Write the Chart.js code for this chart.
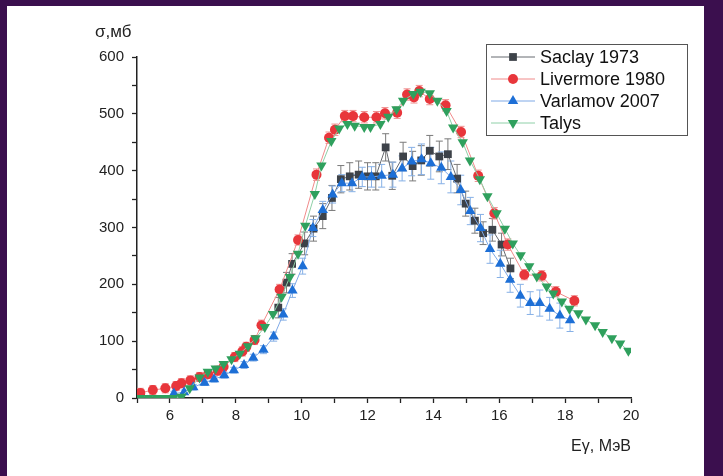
<!DOCTYPE html>
<html>
<head>
<meta charset="utf-8">
<script src="https://cdn.jsdelivr.net/npm/chart.js@4.4.1/dist/chart.umd.min.js"></script>
<style>
  html, body { margin: 0; padding: 0; }
  body { width: 723px; height: 476px; background: #3b0f4e; position: relative; overflow: hidden; font-family: "Liberation Sans", Arial, sans-serif; }
  #panel { position: absolute; left: 7px; top: 6px; width: 697px; height: 470px; background: #fff; }
  #chart { position: absolute; left: 0; top: 0; }
</style>
</head>
<body>
<div id="panel"></div>
<canvas id="chart" width="723" height="476"></canvas>
<script>
// Saclay 1973
const saclayE = [9.29, 9.54, 9.71, 10.09, 10.36, 10.64, 10.92, 11.19, 11.46, 11.73, 12.0, 12.25, 12.55, 12.75, 13.08, 13.37, 13.63, 13.89, 14.18, 14.44, 14.72, 14.98, 15.26, 15.51, 15.79, 16.07, 16.34];
const saclaySigma = [159, 203, 236, 272, 298, 320, 352, 385, 390, 393, 390, 390, 441, 391, 425, 408, 418, 435, 425, 429, 386, 342, 312, 290, 296, 270, 228];
const saclayErr = [18, 18, 18, 20, 22, 22, 22, 24, 24, 24, 24, 24, 24, 24, 25, 26, 26, 27, 27, 27, 25, 22, 22, 20, 20, 20, 18];

// Livermore 1980
const livermoreE = [5.1, 5.48, 5.86, 6.19, 6.35, 6.62, 6.9, 7.16, 7.45, 7.63, 7.97, 8.2, 8.32, 8.57, 8.78, 9.33, 9.89, 10.45, 10.83, 11.01, 11.31, 11.56, 11.9, 12.27, 12.53, 12.9, 13.2, 13.41, 13.57, 13.89, 14.37, 14.84, 15.36, 15.85, 16.26, 16.76, 17.29, 17.72, 18.28];
const livermoreSigma = [9, 14, 17, 21, 26, 31, 37, 42, 48, 55, 72, 82, 90, 102, 128, 191, 278, 393, 458, 472, 496, 496, 494, 494, 501, 502, 534, 529, 540, 526, 515, 468, 391, 325, 270, 217, 215, 187, 171];
const livermoreErr = [8, 8, 8, 8, 8, 8, 8, 8, 8, 8, 8, 8, 8, 8, 9, 9, 9, 10, 10, 10, 10, 10, 10, 10, 10, 10, 10, 10, 10, 10, 10, 10, 10, 10, 10, 9, 9, 9, 9];

// Varlamov 2007
const varlamovE = [6.12, 6.43, 6.71, 7.05, 7.34, 7.65, 7.94, 8.25, 8.53, 8.84, 9.15, 9.44, 9.72, 10.03, 10.34, 10.64, 10.94, 11.22, 11.53, 11.84, 12.12, 12.43, 12.77, 13.05, 13.34, 13.64, 13.92, 14.24, 14.53, 14.83, 15.12, 15.43, 15.72, 16.03, 16.33, 16.64, 16.94, 17.23, 17.53, 17.84, 18.15];
const varlamovSigma = [8, 10, 19, 27, 33, 40, 49, 58, 71, 85, 108, 147, 189, 232, 299, 331, 358, 378, 378, 389, 389, 391, 393, 404, 416, 420, 413, 405, 389, 366, 329, 299, 262, 236, 208, 180, 167, 167, 157, 145, 137];
const varlamovErr = [4, 4, 5, 5, 5, 5, 5, 6, 6, 7, 8, 10, 12, 14, 15, 15, 15, 15, 15, 17, 18, 20, 22, 22, 25, 27, 28, 28, 28, 26, 24, 24, 25, 24, 22, 20, 20, 23, 20, 22, 20];

// Talys
const talysE = [5.1, 5.35, 5.6, 5.85, 6.1, 6.35, 6.6, 6.9, 7.15, 7.39, 7.63, 7.87, 8.12, 8.37, 8.6, 8.88, 9.13, 9.39, 9.64, 9.89, 10.11, 10.4, 10.6, 10.9, 11.14, 11.39, 11.61, 11.9, 12.09, 12.39, 12.63, 12.88, 13.08, 13.39, 13.61, 13.89, 14.12, 14.4, 14.6, 14.89, 15.11, 15.41, 15.64, 15.92, 16.17, 16.41, 16.65, 16.91, 17.14, 17.44, 17.64, 17.9, 18.13, 18.4, 18.63, 18.91, 19.14, 19.42, 19.67, 19.92];
const talysSigma = [0, 0, 0, 0, 0, 2, 17, 36, 46, 52, 60, 68, 78, 91, 105, 125, 148, 178, 213, 254, 303, 359, 409, 452, 474, 482, 479, 477, 477, 482, 495, 508, 523, 535, 539, 536, 523, 505, 476, 450, 418, 385, 355, 325, 298, 272, 251, 232, 214, 196, 184, 170, 157, 149, 138, 128, 116, 105, 96, 83];

const xTicks = [6, 8, 10, 12, 14, 16, 18, 20];
const yTicks = [0, 100, 200, 300, 400, 500, 600];

const points = (xs, ys) => xs.map((x, i) => ({ x: x, y: ys[i] }));

// vertical error bars, drawn under the markers
const errorBars = {
    id: "errorBars",
    beforeDatasetsDraw(chart) {
        const { ctx, chartArea, scales } = chart;
        ctx.save();
        ctx.beginPath();
        ctx.rect(chartArea.left, chartArea.top, chartArea.width, chartArea.height);
        ctx.clip();
        chart.data.datasets.forEach((ds) => {
            if (!ds.errors) return;
            ctx.strokeStyle = ds.errorColor;
            ctx.lineWidth = 1;
            ds.data.forEach((p, i) => {
                const e = ds.errors[i];
                const px = scales.x.getPixelForValue(p.x);
                const t = scales.y.getPixelForValue(p.y + e);
                const b = scales.y.getPixelForValue(p.y - e);
                ctx.beginPath();
                ctx.moveTo(px, t); ctx.lineTo(px, b);
                ctx.moveTo(px - 3.5, t); ctx.lineTo(px + 3.5, t);
                ctx.moveTo(px - 3.5, b); ctx.lineTo(px + 3.5, b);
                ctx.stroke();
            });
        });
        ctx.restore();
    },
};

// boxed legend in the upper right + the y axis caption
const boxLegend = {
    id: "boxLegend",
    afterDraw(chart) {
        const ctx = chart.ctx;
        const area = chart.chartArea;
        ctx.save();
        ctx.fillStyle = "#222";
        ctx.font = "17px 'Liberation Sans', Arial, sans-serif";
        ctx.textBaseline = "middle";
        ctx.textAlign = "left";
        ctx.fillText("σ,мб", area.left - 42, 32);

        const bx = 486, by = 44, bw = 201, bh = 91;
        ctx.fillStyle = "#fff";
        ctx.fillRect(bx, by, bw, bh);
        ctx.strokeStyle = "#555";
        ctx.lineWidth = 1;
        ctx.strokeRect(bx + 0.5, by + 0.5, bw, bh);

        ctx.font = "18px 'Liberation Sans', Arial, sans-serif";
        chart.data.datasets.forEach((ds, i) => {
            const yy = by + 13 + i * 22;
            ctx.strokeStyle = ds.borderColor;
            ctx.lineWidth = 1;
            ctx.beginPath();
            ctx.moveTo(bx + 5, yy);
            ctx.lineTo(bx + 49, yy);
            ctx.stroke();
            ctx.fillStyle = ds.pointBackgroundColor;
            Chart.helpers.drawPoint(ctx, {
                pointStyle: ds.pointStyle,
                radius: ds.pointRadius,
                rotation: ds.pointRotation || 0,
                borderWidth: 0,
            }, bx + 27, yy);
            ctx.fillStyle = "#111";
            ctx.fillText(ds.label, bx + 54, yy + 1);
        });
        ctx.restore();
    },
};

const axisFont = { family: "'Liberation Sans', Arial, sans-serif", size: 15 };

new Chart(document.getElementById("chart"), {
    type: "line",
    data: {
        datasets: [
            {
                label: "Saclay 1973",
                data: points(saclayE, saclaySigma),
                errors: saclayErr,
                errorColor: "#7a7a7a",
                borderColor: "#666a70",
                pointBackgroundColor: "#3d4249",
                pointStyle: "rect",
                pointRadius: 5.5,
                order: 3,
            },
            {
                label: "Livermore 1980",
                data: points(livermoreE, livermoreSigma),
                errors: livermoreErr,
                errorColor: "#ef8f8f",
                borderColor: "#f08a8a",
                pointBackgroundColor: "#e8363b",
                pointStyle: "circle",
                pointRadius: 5,
                order: 2,
            },
            {
                label: "Varlamov 2007",
                data: points(varlamovE, varlamovSigma),
                errors: varlamovErr,
                errorColor: "#86b0e6",
                borderColor: "#7fa9e6",
                pointBackgroundColor: "#1d6fd6",
                pointStyle: "triangle",
                pointRadius: 6,
                order: 1,
            },
            {
                label: "Talys",
                data: points(talysE, talysSigma),
                borderColor: "#8fd0a8",
                pointBackgroundColor: "#2fa05d",
                pointStyle: "triangle",
                pointRotation: 180,
                pointRadius: 6,
                order: 0,
            },
        ].map((ds) => ({
            ...ds,
            borderWidth: 1,
            pointBorderWidth: 0,
            pointBorderColor: ds.pointBackgroundColor,
            tension: 0,
            fill: false,
        })),
    },
    options: {
        responsive: false,
        animation: false,
        layout: { padding: { left: 0, top: 57, right: 92, bottom: 0 } },
        plugins: { legend: { display: false }, tooltip: { enabled: false } },
        scales: {
            x: {
                type: "linear",
                min: 5,
                max: 20,
                afterFit: (s) => { s.height = 78; },
                ticks: {
                    stepSize: 1,
                    autoSkip: false,
                    maxRotation: 0,
                    padding: 4,
                    color: "#222",
                    font: axisFont,
                    callback: (v) => (xTicks.includes(v) ? v : ""),
                },
                grid: { drawOnChartArea: false, tickLength: 5, tickColor: "#222", tickWidth: 1.3 },
                border: { color: "#222", width: 1.5 },
                title: {
                    display: true,
                    text: "Eγ, МэВ",
                    align: "end",
                    color: "#222",
                    font: { family: axisFont.family, size: 16 },
                    padding: { top: 0, bottom: 20 },
                },
            },
            y: {
                type: "linear",
                min: 0,
                max: 600,
                afterFit: (s) => { s.width = 137; },
                ticks: {
                    stepSize: 50,
                    padding: 8,
                    color: "#222",
                    font: axisFont,
                    callback: (v) => (yTicks.includes(v) ? v : ""),
                },
                grid: { drawOnChartArea: false, tickLength: 5, tickColor: "#222", tickWidth: 1.3 },
                border: { color: "#222", width: 1.5 },
            },
        },
    },
    plugins: [errorBars, boxLegend],
});
</script>
</body>
</html>
